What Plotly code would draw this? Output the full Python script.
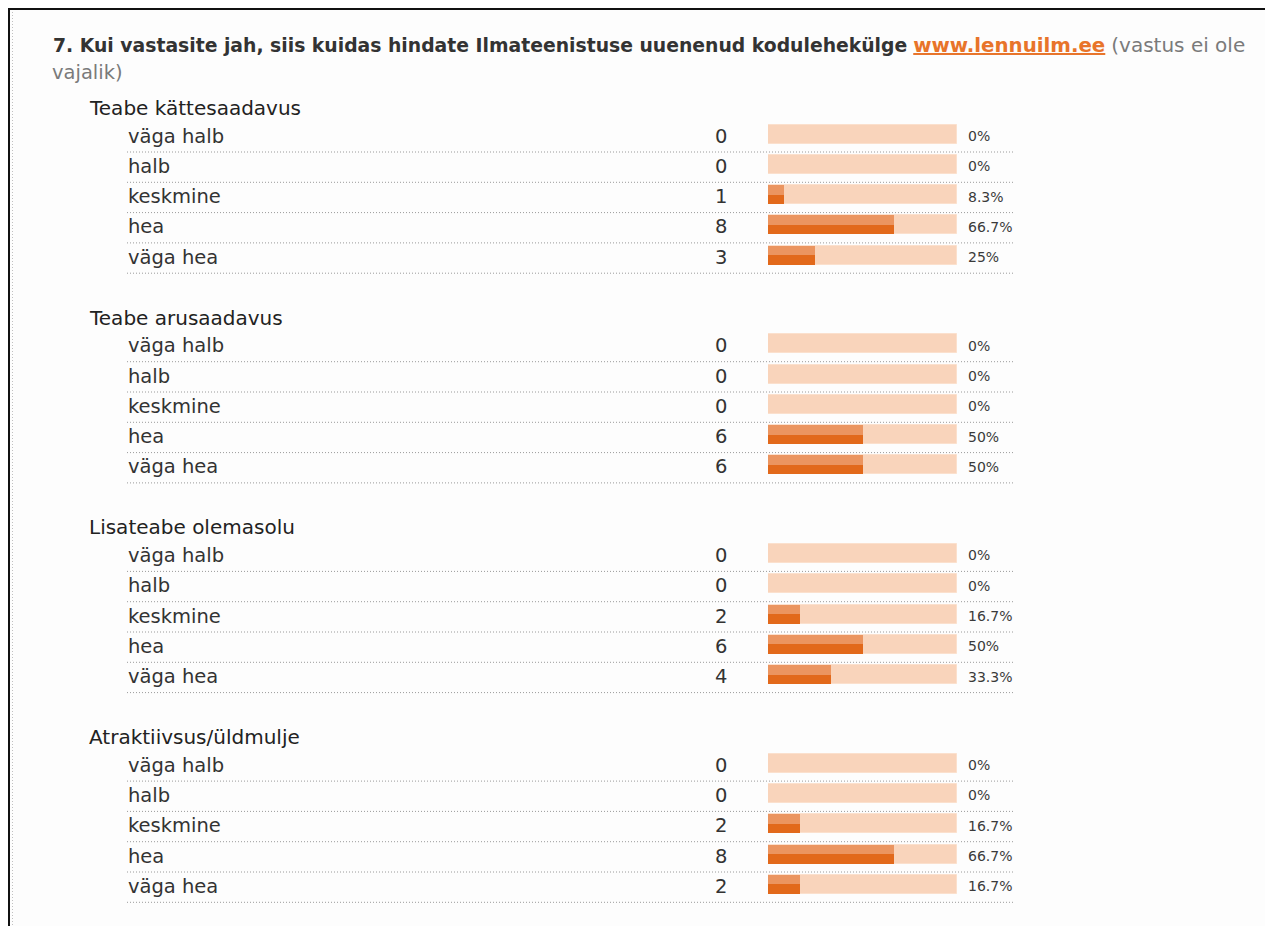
import plotly.graph_objects as go

# ---- data ----
groups = ["Teabe kättesaadavus", "Teabe arusaadavus", "Lisateabe olemasolu", "Atraktiivsus/üldmulje"]
options = ["väga halb", "halb", "keskmine", "hea", "väga hea"]
counts_kattesaadavus = [0, 0, 1, 8, 3]
counts_arusaadavus = [0, 0, 0, 6, 6]
counts_lisateave = [0, 0, 2, 6, 4]
counts_atraktiivsus = [0, 0, 2, 8, 2]
all_counts = [counts_kattesaadavus, counts_arusaadavus, counts_lisateave, counts_atraktiivsus]

# ---- layout constants (page pixel units) ----
W, H = 1265, 926
FONT = "DejaVu Sans"
TXT = "#333333"
HEADER_Y0, GROUP_PITCH = 108, 209.7
ROW_OFF, ROW_PITCH = 26, 30.3
BAR_H = 19
BAR_X0, BAR_X1 = 768, 957


def fmt_pct(v):
    s = f"{v:.1f}"
    return s[:-2] + "%" if s.endswith(".0") else s + "%"


row_y, row_lab, row_cnt, row_pct = [], [], [], []
header_y = []
for g, counts in enumerate(all_counts):
    hy = HEADER_Y0 + g * GROUP_PITCH
    header_y.append(hy)
    total = sum(counts)
    for i, c in enumerate(counts):
        row_y.append(hy + ROW_OFF + i * ROW_PITCH)
        row_lab.append(options[i])
        row_cnt.append(c)
        row_pct.append(c / total * 100)

fig = go.Figure()
# background bars
fig.add_trace(go.Bar(y=row_y, x=[100] * len(row_y), orientation="h", width=BAR_H,
                     marker=dict(color="#f9d4bb", line=dict(color="#fbe0cd", width=1)),
                     xaxis="x2", yaxis="y", hoverinfo="skip"))
# dark fill
fig.add_trace(go.Bar(y=row_y, x=row_pct, orientation="h", width=BAR_H,
                     marker=dict(color="#e2691b", line=dict(width=0)),
                     xaxis="x2", yaxis="y", hoverinfo="skip"))
# lighter top half
fig.add_trace(go.Bar(y=row_y, x=row_pct, orientation="h", width=BAR_H / 2, offset=-BAR_H / 2,
                     marker=dict(color="#eb9560", line=dict(width=0)),
                     xaxis="x2", yaxis="y", hoverinfo="skip"))

ann = []
ann.append(dict(x=51, y=45, xref="x", yref="y", xanchor="left", yanchor="middle", align="left",
                text="<b>7. Kui vastasite jah, siis kuidas hindate Ilmateenistuse uuenenud kodulehekülge</b> "
                     "<span style='color:#e8742a;font-size:19.8px'><b><u>www.lennuilm.ee</u></b></span> "
                     "<span style='color:#7a7a7a;font-size:20px'>(vastus ei ole</span>",
                font=dict(family=FONT, size=18.8, color=TXT), showarrow=False))
ann.append(dict(x=50, y=72, xref="x", yref="y", xanchor="left", yanchor="middle", align="left",
                text="vajalik)", font=dict(family=FONT, size=19.5, color="#7a7a7a"), showarrow=False))
for g, hy in enumerate(header_y):
    ann.append(dict(x=87, y=hy, xref="x", yref="y", xanchor="left", yanchor="middle",
                    text=groups[g], font=dict(family=FONT, size=20, color="#222222"), showarrow=False))

shapes = [dict(type="rect", xref="x", yref="y", x0=10, x1=W, y0=10, y1=H,
               fillcolor="#fdfdfd", line=dict(width=0), layer="below")]
for y, lab, c, p in zip(row_y, row_lab, row_cnt, row_pct):
    ann.append(dict(x=126, y=y + 2, xref="x", yref="y", xanchor="left", yanchor="middle",
                    text=lab, font=dict(family=FONT, size=19.5, color=TXT), showarrow=False))
    ann.append(dict(x=721, y=y + 2, xref="x", yref="y", xanchor="center", yanchor="middle",
                    text=str(c), font=dict(family=FONT, size=19.5, color=TXT), showarrow=False))
    ann.append(dict(x=966, y=y + 2, xref="x", yref="y", xanchor="left", yanchor="middle",
                    text=fmt_pct(p), font=dict(family=FONT, size=14, color="#3a3a3a"), showarrow=False))
    shapes.append(dict(type="line", xref="x", yref="y", x0=127, x1=1013, y0=y + 18, y1=y + 18,
                       line=dict(color="#9a9a9a", width=1, dash="1px,2px")))

# frame
shapes.append(dict(type="line", xref="x", yref="y", x0=8, x1=W, y0=9, y1=9,
                   line=dict(color="#111111", width=2)))
shapes.append(dict(type="line", xref="x", yref="y", x0=9, x1=9, y0=8, y1=H,
                   line=dict(color="#111111", width=2)))
shapes.append(dict(type="line", xref="x", yref="y", x0=12.5, x1=12.5, y0=12, y1=H,
                   line=dict(color="#c0c0c0", width=1, dash="1px,2px")))

fig.update_layout(
    width=W, height=H, margin=dict(l=0, r=0, t=0, b=0),
    paper_bgcolor="white", plot_bgcolor="rgba(0,0,0,0)",
    barmode="overlay", bargap=0, showlegend=False,
    xaxis=dict(range=[0, W], domain=[0, 1], visible=False, fixedrange=True),
    xaxis2=dict(range=[0, 100], domain=[BAR_X0 / W, BAR_X1 / W],
                anchor="y", visible=False, fixedrange=True),
    yaxis=dict(range=[H, 0], domain=[0, 1], visible=False, fixedrange=True),
    annotations=ann, shapes=shapes,
)
fig.write_html("out.html", config={"displayModeBar": False},
               post_script="document.body.style.margin='0';document.body.style.overflow='hidden';")
